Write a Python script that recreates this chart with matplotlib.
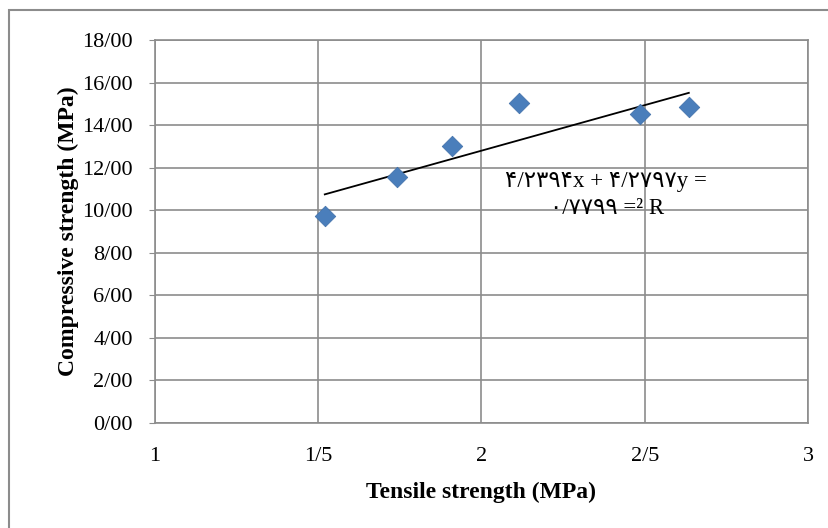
import matplotlib
matplotlib.use("Agg")
import matplotlib.pyplot as plt
from matplotlib.patches import Rectangle

tensile = [1.52, 1.741, 1.910, 2.115, 2.485, 2.635]
compressive = [9.73, 11.56, 13.02, 15.04, 14.52, 14.85]
slope, intercept = 4.2797, 4.2394
x_ticks = [1, 1.5, 2, 2.5, 3]
x_labels = ["1", "1/5", "2", "2/5", "3"]
y_ticks = [0, 2, 4, 6, 8, 10, 12, 14, 16, 18]
y_labels = ["0/00", "2/00", "4/00", "6/00", "8/00", "10/00", "12/00", "14/00", "16/00", "18/00"]

plt.rcParams['font.family'] = ['Liberation Serif', 'DejaVu Sans']

W, H = 829, 528
fig = plt.figure(figsize=(W / 100, H / 100), dpi=100)
fig.patches.append(Rectangle((9 / W, -0.1), 1.2, 1 - 10 / H + 0.1, transform=fig.transFigure,
                             fill=False, edgecolor="#8c8c8c", linewidth=1.5))
ax = fig.add_axes([155 / W, 1 - 423 / H, (808 - 155) / W, (423 - 40) / H])
ax.set_xlim(1, 3)
ax.set_ylim(0, 18)
ax.set_xticks(x_ticks)
ax.set_xticklabels(x_labels, fontsize=16)
ax.set_yticks(y_ticks)
ax.set_yticklabels(y_labels, fontsize=16)
ax.grid(True, color="#8c8c8c", linewidth=1.2)
ax.set_axisbelow(True)
for s in ax.spines.values():
    s.set_color("#8c8c8c")
    s.set_linewidth(1.2)
ax.tick_params(axis='x', length=0, pad=17)
ax.tick_params(axis='y', length=4, color="#8c8c8c", pad=12)

xs = [min(tensile), max(tensile)]
ax.plot(xs, [slope * v + intercept for v in xs], color="black", linewidth=1.3, zorder=3)
ax.scatter(tensile, compressive, marker="D", s=110, color="#4a7ebb", edgecolor="#3f6fa8",
           linewidth=0.5, zorder=4)

ax.text(2.69, 11.33, "۴/۲۳۹۴x + ۴/۲۷۹۷y =", fontsize=16.5, ha="right", va="center")
ax.text(2.56, 10.06, "۰/۷۷۹۹ =² R", fontsize=16.5, ha="right", va="center")

ax.set_xlabel("Tensile strength (MPa)", fontsize=17, fontweight="bold", labelpad=12)
ax.set_ylabel("Compressive strength (MPa)", fontsize=17, fontweight="bold", labelpad=2)

fig.savefig("out.png", dpi=100)
